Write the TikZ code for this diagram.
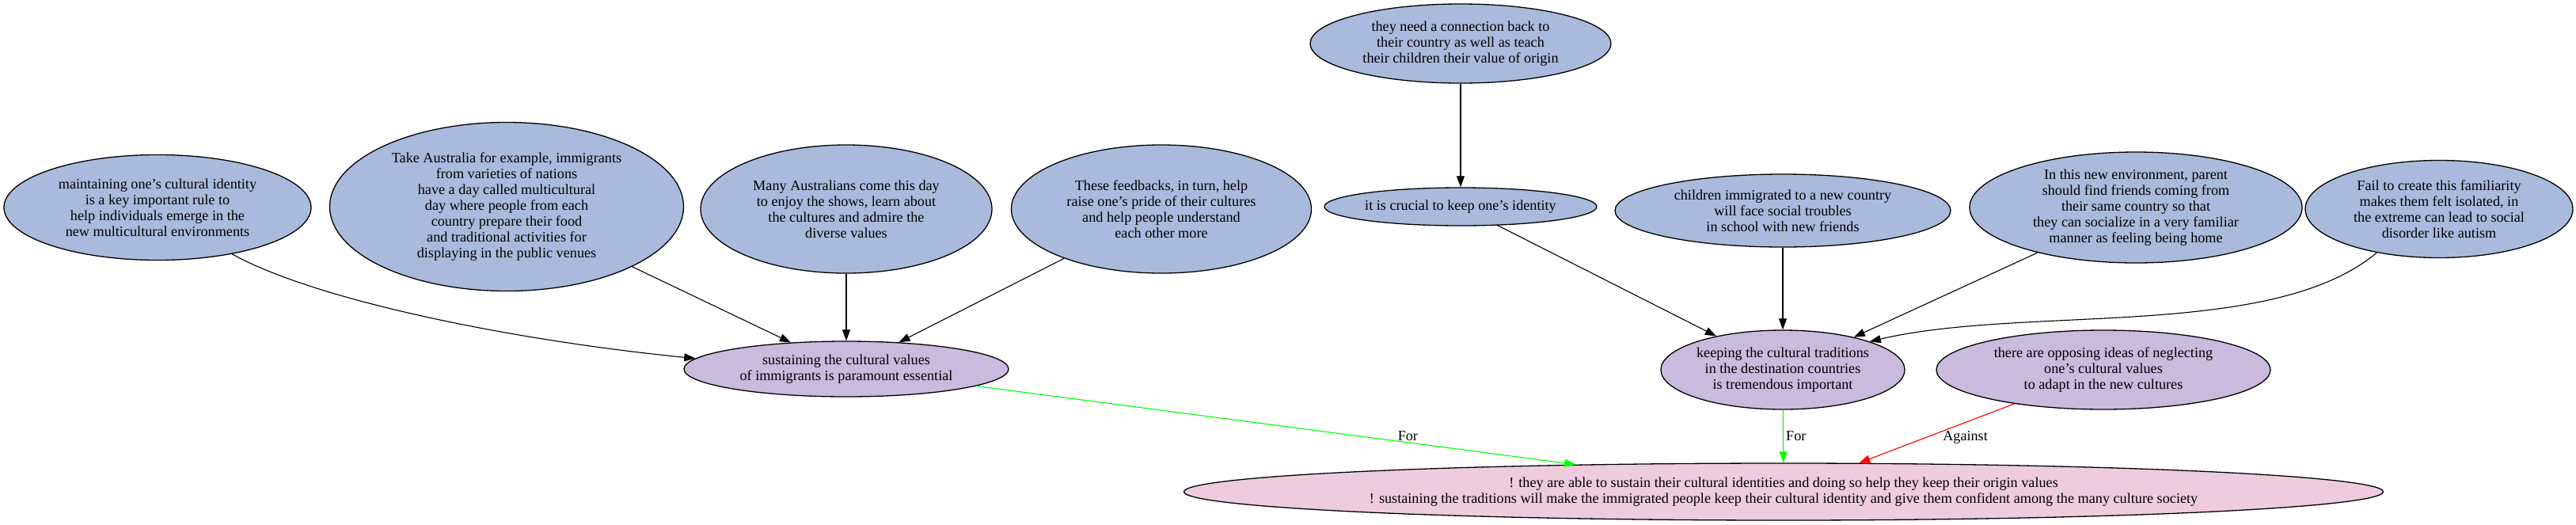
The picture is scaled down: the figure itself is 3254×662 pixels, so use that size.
\documentclass[tikz,border=0pt]{standalone}
\usepackage{fontspec}
\setmainfont{Liberation Serif}
\usetikzlibrary{shapes.geometric,arrows.meta}
\definecolor{nblue}{RGB}{170,186,221}
\definecolor{npurple}{RGB}{202,186,221}
\definecolor{npink}{RGB}{238,204,221}
\definecolor{egreen}{RGB}{0,255,0}
\definecolor{ered}{RGB}{255,0,0}
\tikzset{
 basenode/.style={ellipse, draw=black, line width=1.3pt, inner sep=0pt, align=center, font=\fontsize{18.2}{20}\selectfont},
 bluenode/.style={basenode, fill=nblue},
 purplenode/.style={basenode, fill=npurple},
 pinknode/.style={basenode, fill=npink},
 edgeline/.style={line width=1.1pt, -{Triangle[length=14pt,width=10pt]}},
 lbl/.style={font=\fontsize{18.2}{20}\selectfont, inner sep=1pt},
}
\begin{document}
\begin{tikzpicture}[x=1pt,y=-1pt]
\useasboundingbox (0,0) rectangle (3254,662);
% rank 0
\node[bluenode, minimum width=380pt, minimum height=100pt] (F) at (1845,55) {they need a connection back to\\their country as well as teach\\their children their value of origin};
% rank 1
\node[bluenode, minimum width=388pt, minimum height=133pt] (A) at (199,262) {maintaining one’s cultural identity\\is a key important rule to\\help individuals emerge in the\\new multicultural environments};
\node[bluenode, minimum width=447pt, minimum height=213pt] (B) at (640,261) {Take Australia for example, immigrants\\from varieties of nations\\have a day called multicultural\\day where people from each\\country prepare their food\\and traditional activities for\\displaying in the public venues};
\node[bluenode, minimum width=368pt, minimum height=162pt] (C) at (1069,264) {Many Australians come this day\\to enjoy the shows, learn about\\the cultures and admire the\\diverse values};
\node[bluenode, minimum width=379pt, minimum height=162pt] (D) at (1467,264) {These feedbacks, in turn, help\\raise one’s pride of their cultures\\and help people understand\\each other more};
\node[bluenode, minimum width=344pt, minimum height=48pt] (E) at (1845,261) {it is crucial to keep one’s identity};
\node[bluenode, minimum width=424pt, minimum height=92pt] (G) at (2252,266) {children immigrated to a new country\\will face social troubles\\in school with new friends};
\node[bluenode, minimum width=420pt, minimum height=140pt] (H) at (2698,262) {In this new environment, parent\\should find friends coming from\\their same country so that\\they can socialize in a very familiar\\manner as feeling being home};
\node[bluenode, minimum width=338pt, minimum height=123pt] (I) at (3081,264) {Fail to create this familiarity\\makes them felt isolated, in\\the extreme can lead to social\\disorder like autism};
% rank 2
\node[purplenode, minimum width=410pt, minimum height=70pt] (J) at (1069,466) {sustaining the cultural values\\of immigrants is paramount essential};
\node[purplenode, minimum width=296pt, minimum height=100pt] (K) at (2252,467) {keeping the cultural traditions\\in the destination countries\\is tremendous important};
\node[purplenode, minimum width=422pt, minimum height=100pt] (L) at (2657,467) {there are opposing ideas of neglecting\\one’s cultural values\\to adapt in the new cultures};
% rank 3
\node[pinknode, minimum width=1515pt, minimum height=72pt] (M) at (2253,621) {! they are able to sustain their cultural identities and doing so help they keep their origin values\\! sustaining the traditions will make the immigrated people keep their cultural identity and give them confident among the many culture society};
% edges
\draw[edgeline] (F) -- (E);
\draw[edgeline] (A.-32) .. controls (400,380) and (650,430) .. (J.176);
\draw[edgeline] (B) -- (J);
\draw[edgeline] (C) -- (J);
\draw[edgeline] (D) -- (J);
\draw[edgeline] (E) -- (K);
\draw[edgeline] (G) -- (K);
\draw[edgeline] (H) -- (K);
\draw[edgeline] (I.-145) .. controls (2870,430) and (2560,385) .. (K.18);
\draw[edgeline, draw=egreen, fill=egreen] (J) -- node[lbl, pos=0.72, yshift=8pt] (l1) {For} (M);
\draw[edgeline, draw=egreen, fill=egreen] (K) -- node[lbl, pos=0.5, anchor=west, xshift=2pt] (l2) {For} (M);
\draw[edgeline, draw=ered, fill=ered] (L) -- node[lbl, pos=0.57, anchor=west, xshift=20pt] (l3) {Against} (M);
\end{tikzpicture}
\end{document}
